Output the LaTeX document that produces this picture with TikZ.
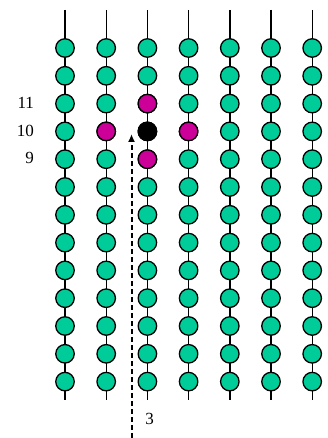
\documentclass[tikz,border=0pt]{standalone}
\usepackage{fontspec}
\setmainfont{Liberation Serif}
\usetikzlibrary{arrows.meta}
\definecolor{bead}{RGB}{0,204,153}
\definecolor{hot}{RGB}{204,0,153}

\begin{document}
\begin{tikzpicture}[x=1pt,y=-1pt,>={Latex[length=8pt,width=7pt]}, font=\fontsize{17}{19}\selectfont, line join=round, line cap=butt,
	bead/.style={circle,draw=black,line width=1.3pt,fill=bead,minimum size=18.5pt,inner sep=0pt},
	hotbead/.style={bead,fill=hot},
	centre/.style={bead,fill=black}]
	\useasboundingbox (0,0) rectangle (328,438);
	% columns
	\foreach \c in {1,...,7}{
		\coordinate (t\c) at ({65+41.2*(\c-1)},10);
		\coordinate (b\c) at ({65+41.2*(\c-1)},400);
		\draw[line width=1.4pt] (t\c) -- (b\c);
		\foreach \r in {1,...,13}
			\node[bead] (n\c-\r) at ({65+41.2*(\c-1)},{48+27.8*(\r-1)}) {};
	}
	\node[hotbead] at (n2-4) {};
	\node[hotbead] at (n3-3) {};
	\node[hotbead] at (n3-5) {};
	\node[hotbead] at (n4-4) {};
	\node[centre] at (n3-4) {};
	% row labels
	\node[anchor=east] (l11) at (37.5,103) {11};
	\node[anchor=east] (l10) at (37.5,130.6) {10};
	\node[anchor=east] (l9) at (37.5,158.4) {9};
	% arrow
	\coordinate (s) at (131.5,438);
	\coordinate (e) at (131.5,134);
	\draw[->,line width=2pt,dash pattern=on 5pt off 3pt] (s) -- (e);
	\node (three) at (149.5,419) {3};
\end{tikzpicture}
\end{document}
